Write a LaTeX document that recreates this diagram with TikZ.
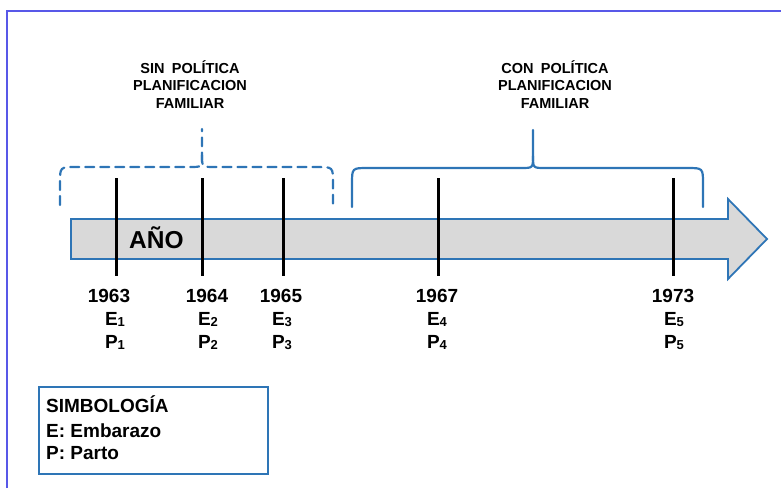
\documentclass[tikz,border=0pt]{standalone}
\usepackage{fontspec}
\setmainfont{Liberation Sans}
\definecolor{bbl}{RGB}{46,117,182}
\definecolor{frm}{RGB}{88,88,232}
\definecolor{agray}{RGB}{217,217,217}
\newcommand{\sbn}[1]{\raisebox{-1pt}{\fontsize{13}{13}\selectfont #1}}
\begin{document}
\begin{tikzpicture}[x=1pt,y=-1pt,
  lbl/.style={inner sep=0pt, anchor=base, font=\fontsize{19}{23}\selectfont\bfseries},
  head/.style={inner sep=0pt, anchor=base, font=\fontsize{14.5}{17}\selectfont\bfseries},
  brace/.style={draw=bbl, line width=2.2pt, line cap=round},
  tickline/.style={draw=black, line width=3pt}]
\useasboundingbox (0,0) rectangle (781,488);
% outer frame
\draw[frm, line width=2pt] (7,488) -- (7,11) -- (781,11);
% arrow
\draw[bbl, fill=agray, line width=1.8pt, line join=miter]
  (71,219) -- (728,219) -- (728,199) -- (767,239) -- (728,279) -- (728,259) -- (71,259) -- cycle;
\node[inner sep=0pt, anchor=base west, font=\fontsize{24.5}{24.5}\selectfont\bfseries] (ano) at (129,248) {AÑO};
% ticks
\foreach \x [count=\i] in {116,202,283,438,673}
  \draw[tickline] (\x,178) coordinate (t\i top) -- (\x,276) coordinate (t\i bot);
% dashed brace
\draw[brace, dash pattern=on 9pt off 6pt]
  (60,205) -- (60,183) .. controls (60,167) .. (76,167) -- (190,167)
  .. controls (202,167) .. (202,155) -- (202,129);
\draw[brace, dash pattern=on 9pt off 6pt]
  (202,155) .. controls (202,167) .. (214,167) -- (317,167)
  .. controls (333,167) .. (333,183) -- (333,205);
% solid brace
\draw[brace]
  (352,207) -- (352,184) .. controls (352,168) .. (368,168) -- (521,168)
  .. controls (533,168) .. (533,156) -- (533,130);
\draw[brace]
  (533,156) .. controls (533,168) .. (545,168) -- (687,168)
  .. controls (703,168) .. (703,184) -- (703,207);
% headings
\node[head] (s1) at (190,73) {SIN\enspace POLÍTICA};
\node[head] (s2) at (190,90) {PLANIFICACION};
\node[head] (s3) at (190,108) {FAMILIAR};
\node[head] (c1) at (555,73) {CON\enspace POLÍTICA};
\node[head] (c2) at (555,90) {PLANIFICACION};
\node[head] (c3) at (555,108) {FAMILIAR};
% labels
\foreach \xy/\xe/\yr [count=\i] in {109/115/1963,207/208/1964,281/282/1965,437/437/1967,673/674/1973}{
  \node[lbl] (yr\i) at (\xy,302) {\yr};
  \node[lbl] (e\i) at (\xe,325) {E\sbn{\i}};
  \node[lbl] (p\i) at (\xe,348) {P\sbn{\i}};
}
% legend
\node[draw=bbl, line width=1.5pt, minimum width=229pt, minimum height=87pt, anchor=north west, inner sep=0pt] (leg) at (38,386) {};
\node[lbl, anchor=base west] (l1) at (46,412) {SIMBOLOGÍA};
\node[lbl, anchor=base west] (l2) at (46,437) {E: Embarazo};
\node[lbl, anchor=base west] (l3) at (46,459) {P: Parto};
\end{tikzpicture}
\end{document}
